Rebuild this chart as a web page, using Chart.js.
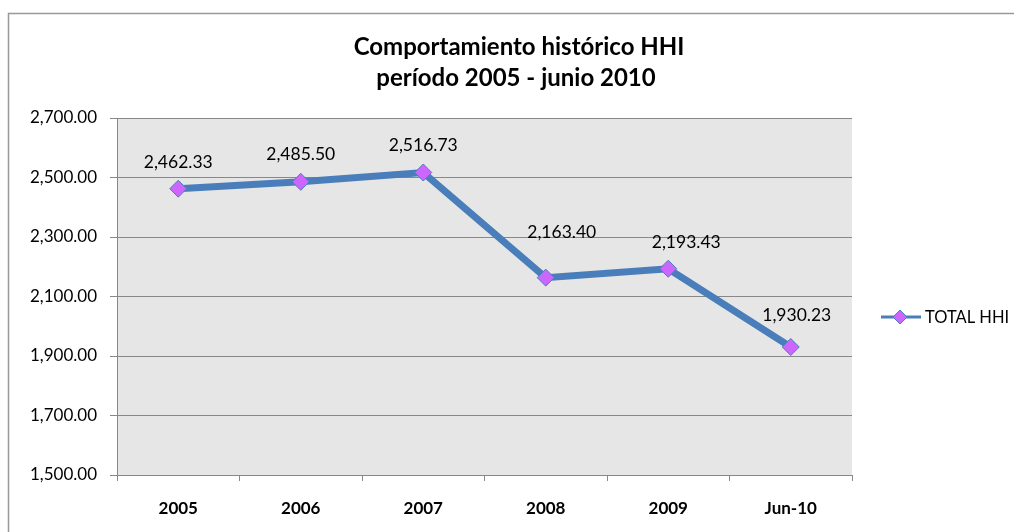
<!DOCTYPE html>
<html><head><meta charset="utf-8">
<script src="https://cdn.jsdelivr.net/npm/chart.js@4/dist/chart.umd.min.js"></script>
<style>html,body{margin:0;padding:0;background:#fff}#wrap{width:1014px;height:532px}</style>
</head><body><div id="wrap"><canvas id="c" width="1014" height="532"></canvas></div>
<script>
const categories = ['2005','2006','2007','2008','2009','Jun-10'];
const totalHHI = [2462.33, 2485.50, 2516.73, 2163.40, 2193.43, 1930.23];
const seriesName = 'TOTAL HHI';
const titleLines = ['Comportamiento histórico HHI', 'período 2005 - junio 2010'];
const yMin = 1500, yMax = 2700, yStep = 200;

const FONT = 'Lato, "Open Sans", sans-serif';
const LINE = '#4a7ebb';
const MARK = '#cc66ff';
// label placement relative to each point (dx, dy in px)
const labelShift = [[0,-26],[0,-27],[0,-27],[16,-45],[18,-26],[6,-32]];

const fmt = v => v.toLocaleString('en-US',{minimumFractionDigits:2,maximumFractionDigits:2});

const deco = {
  id:'deco',
  beforeDraw(chart){
    const {ctx, chartArea:a} = chart;
    ctx.save();
    ctx.fillStyle='#e6e6e6';
    ctx.fillRect(a.left,a.top,a.right-a.left,a.bottom-a.top);
    ctx.strokeStyle='#999'; ctx.lineWidth=1.5;
    ctx.strokeRect(8.5,13.5,1100,600);
    ctx.fillStyle='#000'; ctx.textAlign='center'; ctx.textBaseline='middle';
    ctx.font='bold 24px '+FONT;
    ctx.fillText(titleLines[0],519,47);
    ctx.fillText(titleLines[1],516,78);
    ctx.restore();
  },
  afterDatasetsDraw(chart){
    const {ctx} = chart;
    const meta = chart.getDatasetMeta(0);
    ctx.save();
    ctx.fillStyle='#000'; ctx.textAlign='center'; ctx.textBaseline='middle';
    ctx.font='17.5px '+FONT;
    meta.data.forEach((p,i)=>{
      const s = labelShift[i];
      ctx.fillText(fmt(chart.data.datasets[0].data[i]), p.x+s[0], p.y+s[1]);
    });
    const lx=881, ly=317;
    ctx.strokeStyle=LINE; ctx.lineWidth=3;
    ctx.beginPath(); ctx.moveTo(lx,ly); ctx.lineTo(lx+40,ly); ctx.stroke();
    ctx.fillStyle=MARK; ctx.strokeStyle=LINE; ctx.lineWidth=1;
    ctx.beginPath(); ctx.moveTo(lx+19,ly-7); ctx.lineTo(lx+26,ly); ctx.lineTo(lx+19,ly+7); ctx.lineTo(lx+12,ly); ctx.closePath();
    ctx.fill(); ctx.stroke();
    ctx.fillStyle='#000'; ctx.textAlign='left'; ctx.font='16.5px '+FONT;
    ctx.fillText(seriesName, 925, ly+1);
    ctx.restore();
  }
};

new Chart(document.getElementById('c'),{
  type:'line',
  data:{labels:categories,datasets:[{
    label:seriesName,data:totalHHI,borderColor:LINE,borderWidth:7,
    pointStyle:'rectRot',pointRadius:8.5,pointHoverRadius:8.5,
    pointBackgroundColor:MARK,pointBorderColor:LINE,pointBorderWidth:1,
    tension:0,fill:false
  }]},
  options:{
    responsive:false,animation:false,
    layout:{padding:{left:0,right:162,top:118,bottom:0}},
    plugins:{legend:{display:false},title:{display:false},tooltip:{enabled:false}},
    scales:{
      x:{offset:true,
        grid:{display:true,drawOnChartArea:false,offset:true,color:'#888',tickLength:6,tickColor:'#888'},
        border:{color:'#888',width:1},
        ticks:{color:'#000',font:{family:FONT,size:17,weight:'bold'},padding:17},
        afterFit(s){s.height=532-475;}
      },
      y:{min:yMin,max:yMax,
        grid:{color:'#888',tickLength:7,tickColor:'#888'},
        border:{color:'#888',width:1},
        ticks:{stepSize:yStep,color:'#000',font:{family:FONT,size:17},padding:13,callback:v=>fmt(v)},
        afterFit(s){s.width=117;}
      }
    }
  },
  plugins:[deco]
});
</script></body></html>
